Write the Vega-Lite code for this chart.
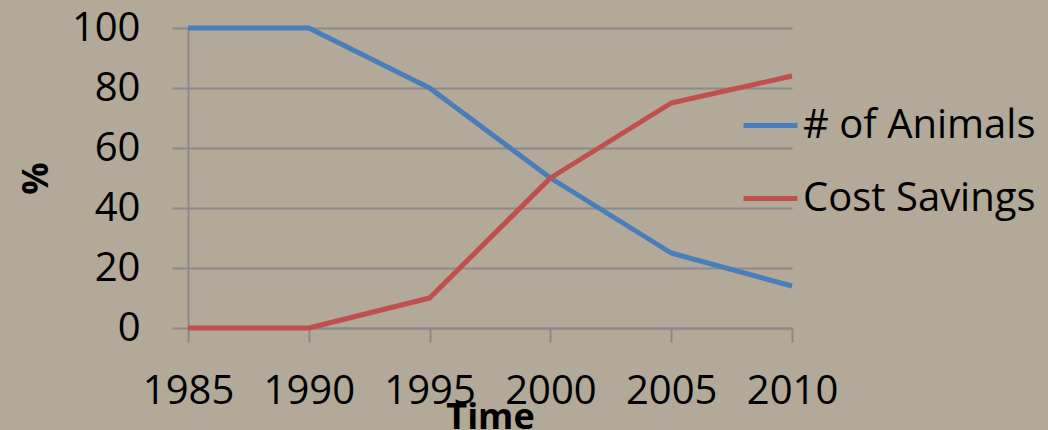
{
  "$schema": "https://vega.github.io/schema/vega-lite/v6.json",
  "width": 604,
  "height": 300,
  "autosize": "none",
  "padding": {"left": 188, "top": 28, "right": 256, "bottom": 102},
  "background": "#b2a998",
  "view": {"stroke": null},
  "data": {
    "values": [
      {"year": 1985, "series": "# of Animals", "value": 100},
      {"year": 1990, "series": "# of Animals", "value": 100},
      {"year": 1995, "series": "# of Animals", "value": 80},
      {"year": 2000, "series": "# of Animals", "value": 50},
      {"year": 2005, "series": "# of Animals", "value": 25},
      {"year": 2010, "series": "# of Animals", "value": 14},
      {"year": 1985, "series": "Cost Savings", "value": 0},
      {"year": 1990, "series": "Cost Savings", "value": 0},
      {"year": 1995, "series": "Cost Savings", "value": 10},
      {"year": 2000, "series": "Cost Savings", "value": 50},
      {"year": 2005, "series": "Cost Savings", "value": 75},
      {"year": 2010, "series": "Cost Savings", "value": 84}
    ]
  },
  "mark": {"type": "line", "strokeWidth": 5, "strokeCap": "butt", "strokeJoin": "round"},
  "encoding": {
    "x": {
      "field": "year", "type": "quantitative", "title": "Time",
      "scale": {"domain": [1985, 2010], "nice": false, "zero": false},
      "axis": {
        "values": [1985, 1990, 1995, 2000, 2005, 2010], "format": "d",
        "grid": false, "domainColor": "#8a8a8a", "domainWidth": 2,
        "tickColor": "#8a8a8a", "tickWidth": 2, "tickSize": 14,
        "labelFont": "Open Sans", "labelFontSize": 40, "labelColor": "#000000",
        "labelBaseline": "alphabetic", "labelPadding": 61, "labelFlush": false, "labelOverlap": false,
        "titleFont": "Open Sans", "titleFontSize": 36, "titleFontWeight": "bold", "titleColor": "#000000",
        "titleBaseline": "alphabetic", "titleY": 100, "titleX": 302
      }
    },
    "y": {
      "field": "value", "type": "quantitative", "title": "%",
      "scale": {"domain": [0, 100], "nice": false},
      "axis": {
        "values": [0, 20, 40, 60, 80, 100],
        "grid": true, "gridColor": "#8a8a8a", "gridWidth": 2,
        "domainColor": "#8a8a8a", "domainWidth": 2,
        "tickColor": "#8a8a8a", "tickWidth": 2, "tickSize": 16,
        "labelFont": "Open Sans", "labelFontSize": 40, "labelColor": "#000000",
        "labelPadding": 32,
        "titleFont": "Open Sans", "titleFontSize": 36, "titleFontWeight": "bold", "titleColor": "#000000",
        "titlePadding": 16
      }
    },
    "color": {
      "field": "series", "type": "nominal",
      "scale": {"domain": ["# of Animals", "Cost Savings"], "range": ["#4a7ebb", "#c0504d"]},
      "legend": {
        "title": null, "orient": "none", "legendX": 553, "legendY": 68,
        "symbolType": "stroke", "symbolSize": 2916, "symbolStrokeWidth": 5,
        "labelFont": "Open Sans", "labelFontSize": 40, "labelColor": "#000000",
        "labelOffset": 3, "rowPadding": 23, "labelLimit": 400
      }
    }
  }
}
